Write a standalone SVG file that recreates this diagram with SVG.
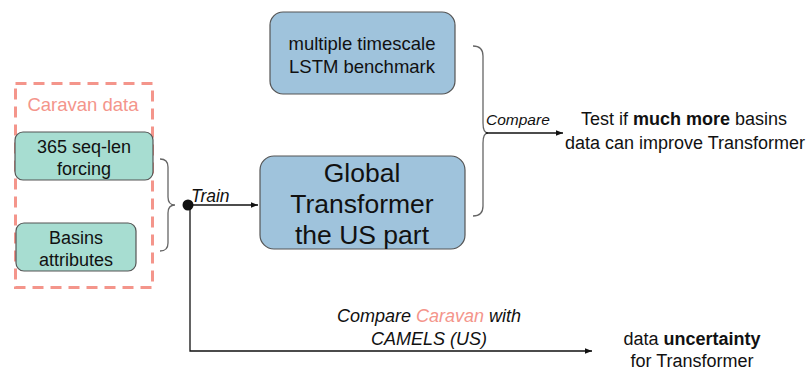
<svg xmlns="http://www.w3.org/2000/svg" width="811" height="370" viewBox="0 0 811 370">
  <style>
    text { font-family: "Liberation Sans", Arial, sans-serif; fill: #111; }
    .box { stroke: #555; stroke-width: 1.2; }
    .teal { fill: #a7ddd1; }
    .blue { fill: #9fc3dc; }
    .brace { fill: none; stroke: #666; stroke-width: 1.3; }
    .line { fill: none; stroke: #111; stroke-width: 1.3; }
    .it { font-style: italic; }
    .salmon { fill: #f4958b; }
  </style>
  <defs>
    <marker id="arrow" viewBox="0 0 10 10" refX="10" refY="5" markerWidth="7" markerHeight="7" markerUnits="userSpaceOnUse" orient="auto">
      <path d="M0,1 L10,5 L0,9 z" fill="#111"/>
    </marker>
  </defs>

  <!-- Caravan data group -->
  <g id="caravan">
    <rect x="15.5" y="83.5" width="137" height="204" fill="none" stroke="#f4958b" stroke-width="3" stroke-dasharray="11 7"/>
    <text x="83" y="111" font-size="18.5" text-anchor="middle" class="salmon">Caravan data</text>
  </g>

  <g id="forcing">
    <rect class="box teal" x="15" y="132" width="138" height="48" rx="8"/>
    <text x="84" y="153" font-size="18" text-anchor="middle">365 seq-len</text>
    <text x="84" y="175" font-size="18" text-anchor="middle">forcing</text>
  </g>

  <g id="attributes">
    <rect class="box teal" x="16" y="223" width="120" height="48" rx="8"/>
    <text x="76" y="244" font-size="18" text-anchor="middle">Basins</text>
    <text x="76" y="266" font-size="18" text-anchor="middle">attributes</text>
  </g>

  <g id="lstm">
    <rect class="box blue" x="270" y="12" width="185" height="82" rx="13"/>
    <text x="362" y="50" font-size="18.5" text-anchor="middle">multiple timescale</text>
    <text x="362" y="73" font-size="18.5" text-anchor="middle">LSTM benchmark</text>
  </g>

  <g id="transformer">
    <rect class="box blue" x="260" y="156" width="205" height="93" rx="14"/>
    <text x="362" y="182" font-size="26.5" text-anchor="middle">Global</text>
    <text x="362" y="213" font-size="26.5" text-anchor="middle">Transformer</text>
    <text x="362" y="244" font-size="26.5" text-anchor="middle">the US part</text>
  </g>

  <g id="improve">
    <text x="684" y="125" font-size="18" text-anchor="middle">Test if <tspan font-weight="bold">much more</tspan> basins</text>
    <text x="685" y="149" font-size="18" text-anchor="middle">data can improve Transformer</text>
  </g>

  <g id="uncertainty">
    <text x="692" y="345" font-size="18" text-anchor="middle">data <tspan font-weight="bold">uncertainty</tspan></text>
    <text x="692" y="367" font-size="18" text-anchor="middle">for Transformer</text>
  </g>

  <!-- connectors -->
  <g id="connectors">
    <path class="brace" d="M160,159 Q168,159 168,167 L168,197 Q168,205 175,205 Q168,205 168,213 L168,243 Q168,251 160,251"/>
    <path class="brace" d="M473,46 Q483,46 483,56 L483,123 Q483,133 488,133 Q483,133 483,143 L483,206 Q483,216 473,216"/>
    <circle cx="188" cy="205" r="5.5" fill="#111"/>
    <line class="line" x1="188" y1="205" x2="258" y2="205" marker-end="url(#arrow)"/>
    <path class="line" d="M190,205 L190,351 L592,351" marker-end="url(#arrow)"/>
    <line class="line" x1="486" y1="133" x2="563" y2="133" marker-end="url(#arrow)"/>
    <text class="it" x="191" y="202" font-size="17.5">Train</text>
    <text class="it" x="486" y="125" font-size="15.5">Compare</text>
    <text class="it" x="429" y="322" font-size="18" text-anchor="middle">Compare <tspan class="salmon">Caravan</tspan> with</text>
    <text class="it" x="429" y="345" font-size="18" text-anchor="middle">CAMELS (US)</text>
  </g>
</svg>
